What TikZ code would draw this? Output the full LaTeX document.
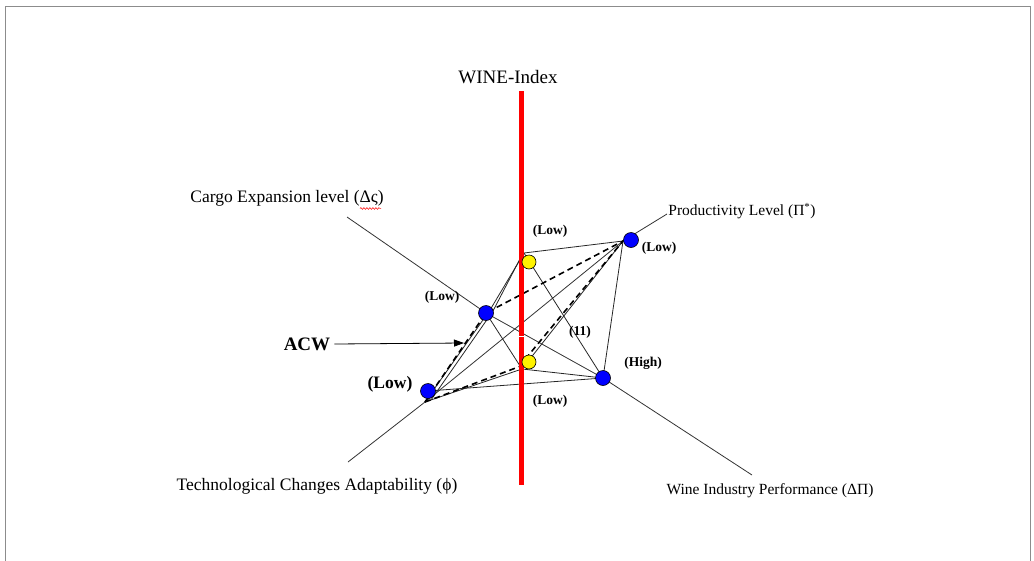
\documentclass[tikz,border=0pt]{standalone}
\usepackage{fontspec}
\setmainfont{Liberation Serif}
\usetikzlibrary{arrows.meta,decorations.pathmorphing}
\begin{document}
\begin{tikzpicture}[x=1pt,y=-1pt,
  hull/.style={draw=black!85, line width=0.8pt},
  acwline/.style={draw=black, line width=1.6pt, dash pattern=on 6pt off 4pt},
  axisline/.style={draw=black!80, line width=0.8pt},
  bluedot/.style={circle, fill=blue, draw=black, line width=0.6pt, minimum size=15pt, inner sep=0pt},
  yellowdot/.style={circle, fill=yellow, draw=black, line width=0.6pt, minimum size=14pt, inner sep=0pt},
  lvl/.style={font=\bfseries\fontsize{13.5}{14}\selectfont, inner sep=0pt},
  axlabel/.style={font=\fontsize{17.5}{18}\selectfont, inner sep=0pt}
]
\useasboundingbox (0,0) rectangle (1034,560);
% frame
\draw[black!45, line width=0.8pt] (5,562) -- (5,6) -- (1030,6) -- (1030,562);

% coordinates
\coordinate (cA) at (347,217);
\coordinate (wE) at (752,475);
\coordinate (tA) at (348,462);
\coordinate (pE) at (667,214);
\coordinate (T) at (524,253);
\coordinate (T2) at (522,255);
\coordinate (K1) at (490,310);
\coordinate (K2) at (493,311);
\coordinate (B) at (522,369);
\coordinate (Bd1) at (527,357);
\coordinate (Bd2) at (521,366);
\coordinate (P) at (623,241);
\coordinate (Tc) at (425,402);
\coordinate (Tc2) at (431,400);
\coordinate (rTop) at (521,91);
\coordinate (rBot) at (521,485);
\coordinate (gapL) at (517,336);
\coordinate (gapR) at (525,336);
\coordinate (L1c) at (486,313);
\coordinate (Hc) at (603,378);
\coordinate (TBc) at (428,391);
\coordinate (arrTip) at (464,343);

% axes
\draw[axisline] (cA) -- (L1c) -- (Hc) -- (wE);
\draw[axisline] (tA) -- (Tc) -- (P) -- (pE);

% hull lines
\draw[hull] (T) -- (P);
\draw[hull] (T) -- (K1) -- (Tc);
\draw[hull] (T2) -- (K2) -- (Tc2);
\draw[hull] (T) -- (Hc);
\draw[hull] (L1c) -- (B);
\draw[hull] (TBc) -- (Hc);
\draw[hull] (Tc) -- (B);
\draw[hull] (B) -- (Hc);
\draw[hull] (P) -- (B);
\draw[hull] (P) -- (Hc);

% ACW dashed polygon
\draw[acwline] (Tc) -- (L1c) -- (P) -- (Bd1);
\draw[acwline] (Tc) -- (Bd2);

% WINE-Index axis
\draw[red, line width=5pt] (rTop) -- (rBot);
\draw[white, line width=1pt] (gapL) -- (gapR);

% dots
\node[bluedot] (L1) at (L1c) {};
\node[bluedot] (H) at (Hc) {};
\node[bluedot] (PB) at (631,240) {};
\node[bluedot] (TB) at (TBc) {};
\node[yellowdot] (YT) at (529,262) {};
\node[yellowdot] (YB) at (529,362) {};

% labels
\node[font=\fontsize{19}{20}\selectfont, inner sep=0pt] (wine) at (508,77) {WINE-Index};
\node[axlabel, font=\fontsize{17.5}{18}\selectfont] (cargo) at (287,198) {Cargo Expansion level (Δς)};
\draw[red, line width=0.5pt, decorate, decoration={snake, amplitude=0.9pt, segment length=3pt}] (360,208.5) -- (381,208.5);
\node[axlabel, font=\fontsize{15.5}{16}\selectfont] (prod) at (742,211) {Productivity Level (Π\textsuperscript{*})};
\node[axlabel] (tech) at (317,486) {Technological Changes Adaptability (ϕ)};
\node[axlabel, font=\fontsize{15.5}{16}\selectfont] (wip) at (770,491) {Wine Industry Performance (ΔΠ)};

\node[lvl] (lowT) at (550,231) {(Low)};
\node[lvl] (lowP) at (659,248) {(Low)};
\node[lvl] (lowL) at (442,297) {(Low)};
\node[lvl] (eleven) at (580,332) {(11)};
\node[lvl] (high) at (643,363) {(High)};
\node[lvl] (lowB) at (550,401) {(Low)};
\node[lvl, font=\bfseries\fontsize{17.5}{18}\selectfont] (lowTech) at (390,384) {(Low)};
\node[font=\bfseries\fontsize{19}{20}\selectfont, inner sep=0pt] (acw) at (307,344) {ACW};
\draw[line width=0.8pt, -{Triangle[length=10pt,width=7pt]}] (acw.east) ++(4,0) -- (arrTip);
\end{tikzpicture}
\end{document}
